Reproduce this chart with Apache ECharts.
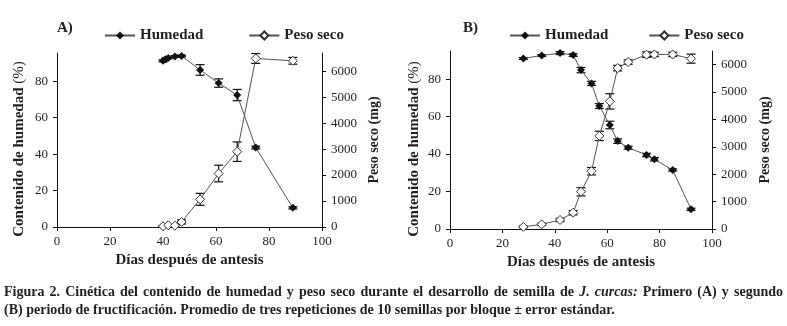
<!DOCTYPE html>
<html>
<head>
<meta charset="utf-8">
<script src="https://cdn.jsdelivr.net/npm/echarts@6/dist/echarts.min.js"></script>
<style>
  html, body { margin: 0; padding: 0; background: #fff; }
  #main { width: 787px; height: 326px; }
</style>
</head>
<body>
<div id="main"></div>
<script>
// Panel A (primer periodo)
var humDaysA = [40, 41, 42, 44.5, 47, 54, 61, 68, 75, 89];
var humA = [91.2, 92.1, 92.8, 93.6, 93.9, 86.2, 79, 72.4, 43.6, 10.5];
var humErrA = [0.6, 0.5, 0.5, 0.5, 0.5, 2.9, 2.3, 3.1, 0.8, 0.6];
var pesoDaysA = [40, 42, 44.5, 47, 54, 61, 68, 75, 89];
var pesoA = [30, 65, 50, 195, 1065, 2060, 2900, 6490, 6400];
var pesoErrA = [20, 20, 20, 80, 230, 320, 375, 190, 130];

// Panel B (segundo periodo)
var daysB = [28, 35, 42, 47, 50, 54, 57, 61, 64, 68, 75, 78, 85, 92];
var humB = [91.0, 92.6, 93.9, 92.8, 84.8, 77.7, 65.6, 55.5, 46.9, 43.4, 39.5, 37.2, 31.5, 10.5];
var humErrB = [0.5, 0.5, 0.8, 0.7, 1.4, 1.1, 1.3, 2.0, 1.2, 0.8, 0.9, 0.9, 0.6, 0.6];
var pesoB = [80, 170, 330, 595, 1360, 2110, 3400, 4660, 5875, 6095, 6365, 6375, 6375, 6220];
var pesoErrB = [30, 40, 60, 80, 150, 135, 170, 280, 100, 80, 100, 80, 80, 165];

var humTicks = [0, 20, 40, 60, 80];
var pesoTicks = [0, 1000, 2000, 3000, 4000, 5000, 6000];

var ink = '#231f20';
var serif = '"Liberation Serif", "DejaVu Serif", serif';

function zip(a, b, c) {
  return a.map(function (v, i) { return c ? [v, b[i], c[i]] : [v, b[i]]; });
}

// barras de error
function errRender(params, api) {
  var x = api.value(0), y = api.value(1), e = api.value(2);
  var hi = api.coord([x, y + e]);
  var lo = api.coord([x, y - e]);
  var w = 4.5;
  var st = { stroke: '#111', lineWidth: 1.2 };
  return {
    type: 'group',
    children: [
      { type: 'line', shape: { x1: hi[0], y1: hi[1], x2: lo[0], y2: lo[1] }, style: st },
      { type: 'line', shape: { x1: hi[0] - w, y1: hi[1], x2: hi[0] + w, y2: hi[1] }, style: st },
      { type: 'line', shape: { x1: lo[0] - w, y1: lo[1], x2: lo[0] + w, y2: lo[1] }, style: st }
    ]
  };
}

function xAxis(grid, gap) {
  return {
    gridIndex: grid, type: 'value', min: 0, max: 100, interval: 20,
    axisLine: { lineStyle: { color: '#111', width: 1 } },
    axisTick: { length: 4, lineStyle: { color: '#111' } },
    axisLabel: { color: ink, fontFamily: serif, fontSize: 13, margin: 8 },
    splitLine: { show: false },
    name: 'Días después de antesis', nameLocation: 'middle', nameGap: gap,
    nameTextStyle: { color: ink, fontFamily: serif, fontSize: 15, fontWeight: 'bold', verticalAlign: 'top' }
  };
}

function yLeft(grid, max, gap) {
  return {
    gridIndex: grid, type: 'value', min: 0, max: max, position: 'left',
    axisLine: { show: true, lineStyle: { color: '#111', width: 1 } },
    axisTick: { show: true, length: 4, customValues: humTicks, lineStyle: { color: '#111' } },
    axisLabel: { color: ink, fontFamily: serif, fontSize: 13, margin: 9, customValues: humTicks,
      formatter: function (v) { return String(v); } },
    splitLine: { show: false },
    name: '{b|Contenido de humedad} {r|(%)}', nameLocation: 'middle', nameGap: gap,
    nameTextStyle: { color: ink, fontFamily: serif, fontSize: 15, padding: [0, 18, 0, 0],
      rich: {
        b: { fontFamily: serif, fontSize: 15, fontWeight: 'bold', color: ink },
        r: { fontFamily: serif, fontSize: 15, color: ink }
      } }
  };
}

function yRight(grid, max, gap) {
  return {
    gridIndex: grid, type: 'value', min: 0, max: max, position: 'right',
    axisLine: { show: true, lineStyle: { color: '#111', width: 1 } },
    axisTick: { show: true, length: 4, customValues: pesoTicks, lineStyle: { color: '#111' } },
    axisLabel: { color: ink, fontFamily: serif, fontSize: 13, margin: 9, customValues: pesoTicks,
      formatter: function (v) { return String(v); } },
    splitLine: { show: false },
    name: 'Peso seco (mg)', nameLocation: 'middle', nameGap: gap, nameRotate: 90,
    nameTextStyle: { color: ink, fontFamily: serif, fontSize: 14, fontWeight: 'bold' }
  };
}

function humLine(xi, yi, data) {
  return {
    name: 'Humedad', type: 'line', xAxisIndex: xi, yAxisIndex: yi, data: data,
    symbol: 'diamond', symbolSize: 8, z: 3,
    itemStyle: { color: '#111' },
    lineStyle: { color: '#555', width: 1 }
  };
}

function pesoLine(xi, yi, data) {
  return {
    name: 'Peso seco', type: 'line', xAxisIndex: xi, yAxisIndex: yi, data: data,
    symbol: 'diamond', symbolSize: 9, z: 3,
    itemStyle: { color: '#fff', borderColor: '#333', borderWidth: 1 },
    lineStyle: { color: '#555', width: 1 }
  };
}

function errSeries(xi, yi, data) {
  return {
    type: 'custom', xAxisIndex: xi, yAxisIndex: yi, data: data, z: 2,
    renderItem: errRender, silent: true
  };
}

// pie de figura: primera linea justificada
var capFont = 'bold 14px ' + serif;
var capItal = 'italic bold 14px ' + serif;
var line1 = [
  ['Figura', 0], ['2.', 0], ['Cinética', 0], ['del', 0], ['contenido', 0], ['de', 0], ['humedad', 0],
  ['y', 0], ['peso', 0], ['seco', 0], ['durante', 0], ['el', 0], ['desarrollo', 0], ['de', 0],
  ['semilla', 0], ['de', 0], ['J.', 1], ['curcas:', 1], ['Primero', 0], ['(A)', 0], ['y', 0], ['segundo', 0]
];
var line2 = '(B) periodo de fructificación. Promedio de tres repeticiones de 10 semillas por bloque ± error estándar.';

var ctx = document.createElement('canvas').getContext('2d');
function textWidth(t, f) { ctx.font = f; return ctx.measureText(t).width; }

var capLeft = 4, capRight = 783;
var widths = line1.map(function (w) { return textWidth(w[0], w[1] ? capItal : capFont); });
var total = widths.reduce(function (a, b) { return a + b; }, 0);
var space = (capRight - capLeft - total) / (line1.length - 1);
var capGraphics = [];
var cx = capLeft;
line1.forEach(function (w, i) {
  capGraphics.push({ type: 'text', left: cx, top: 285, style: { text: w[0], font: w[1] ? capItal : capFont, fill: ink } });
  cx += widths[i] + space;
});
capGraphics.push({ type: 'text', left: capLeft, top: 303, style: { text: line2, font: capFont, fill: ink } });

var legendText = { color: ink, fontFamily: serif, fontSize: 15, fontWeight: 'bold' };

var chart = echarts.init(document.getElementById('main'), null, { renderer: 'canvas' });
var option = {
  backgroundColor: '#fff',
  animation: false,
  grid: [
    { left: 57, top: 53, width: 265, height: 174 },
    { left: 450, top: 51, width: 262, height: 178 }
  ],
  legend: [
    { data: ['Humedad', 'Peso seco'], left: 104, top: 28, padding: 0, itemWidth: 30, itemHeight: 10, itemGap: 45, textStyle: legendText },
    { data: ['Humedad', 'Peso seco'], left: 509, top: 28, padding: 0, itemWidth: 30, itemHeight: 10, itemGap: 40, textStyle: legendText }
  ],
  xAxis: [xAxis(0, 25), xAxis(1, 23)],
  yAxis: [yLeft(0, 95.5, 30), yRight(0, 6700, 45), yLeft(1, 95, 28), yRight(1, 6500, 46)],
  series: [
    errSeries(0, 0, zip(humDaysA, humA, humErrA)),
    errSeries(0, 1, zip(pesoDaysA, pesoA, pesoErrA)),
    humLine(0, 0, zip(humDaysA, humA)),
    pesoLine(0, 1, zip(pesoDaysA, pesoA)),
    errSeries(1, 2, zip(daysB, humB, humErrB)),
    errSeries(1, 3, zip(daysB, pesoB, pesoErrB)),
    humLine(1, 2, zip(daysB, humB)),
    pesoLine(1, 3, zip(daysB, pesoB))
  ],
  graphic: [
    { type: 'text', left: 57, top: 21, style: { text: 'A)', font: 'bold 15px ' + serif, fill: ink } },
    { type: 'text', left: 463, top: 21, style: { text: 'B)', font: 'bold 15px ' + serif, fill: ink } }
  ].concat(capGraphics)
};
chart.setOption(option);
</script>
</body>
</html>
